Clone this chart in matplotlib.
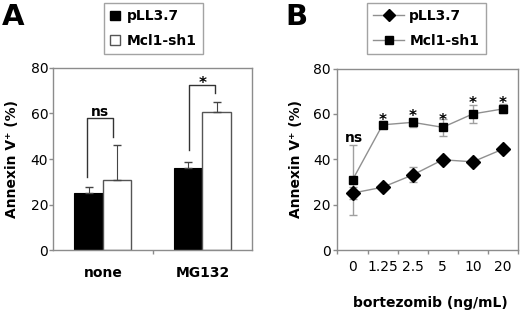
import numpy as np
import matplotlib
matplotlib.use('Agg')
import matplotlib.pyplot as plt
from matplotlib.patches import Patch
from matplotlib.lines import Line2D

plt.rcParams['font.family'] = ['DejaVu Sans']

# panel A data
groups = ['none', 'MG132']
a_pll = [25.2, 36.2]
a_pll_err = [2.6, 2.6]
a_mcl = [30.8, 60.8]
a_mcl_err = [15.4, 4.4]

# panel B data
doses = ['0', '1.25', '2.5', '5', '10', '20']
b_pll = [25.1, 27.7, 33.1, 39.8, 38.9, 44.5]
b_pll_err = [2.5, 1.0, 3.3, 1.0, 1.0, 1.0]
b_mcl = [30.9, 55.2, 56.3, 54.1, 60.0, 62.2]
b_mcl_err = [15.5, 1.5, 2.0, 3.8, 3.8, 2.0]
b_sig = ['ns', '*', '*', '*', '*', '*']
b_sig_y = [47.7, 58.9, 60.5, 58.9, 66.3, 66.3]

frame = '#8c8c8c'
fs = 10
fig = plt.figure(figsize=(5.2, 3.13), dpi=100)

def style(ax, pad):
    for s in ax.spines.values():
        s.set_color(frame)
        s.set_linewidth(1.0)
    ax.tick_params(axis='both', colors=frame, labelcolor='black', labelsize=fs, length=3, width=1)
    ax.tick_params(axis='y', pad=pad)
    ax.set_ylim(0, 80)
    ax.set_yticks([0, 20, 40, 60, 80])
    ax.set_ylabel('Annexin V\u207a (%)', fontsize=fs, fontweight='bold')

# ---- panel A
axA = fig.add_axes([0.102, 0.201, 0.383, 0.582])
x = np.arange(len(groups))
w = 0.285
axA.bar(x - w/2, a_pll, w, color='black', edgecolor='black', lw=0.8)
axA.bar(x + w/2, a_mcl, w, color='white', edgecolor='#555555', lw=1.0)
axA.errorbar(x - w/2, a_pll, yerr=[np.zeros(2), a_pll_err], fmt='none', ecolor='#444444', capsize=3, lw=0.8)
axA.errorbar(x + w/2, a_mcl, yerr=[np.zeros(2), a_mcl_err], fmt='none', ecolor='#444444', capsize=3, lw=0.8)
axA.set_xlim(-0.5, 1.5)
axA.set_xticks([0.5])
axA.set_xticklabels([])
for xi, g in zip(x, groups):
    axA.text(xi, -10, g, ha='center', va='center', fontsize=fs, fontweight='bold')
style(axA, 0.5)
axA.yaxis.set_label_coords(-0.172, 0.5)

# significance brackets
axA.plot([-0.16, -0.16, 0.10, 0.10], [32, 58, 58, 49.5], color='#333333', lw=1)
axA.text(-0.03, 59, 'ns', ha='center', va='baseline', fontsize=fs, fontweight='bold')
axA.plot([0.87, 0.87, 1.13, 1.13], [44, 72.5, 72.5, 69], color='#333333', lw=1)
axA.text(1.0, 71, '*', ha='center', va='baseline', fontsize=fs + 1, fontweight='bold')

handlesA = [Patch(facecolor='black', edgecolor='black'),
            Patch(facecolor='white', edgecolor='#555555')]
legA = axA.legend(handlesA, ['pLL3.7', 'Mcl1-sh1'], loc='upper left',
                  bbox_to_anchor=(104/520, 1 - 3/313), bbox_transform=fig.transFigure,
                  borderaxespad=0, fancybox=False, edgecolor=frame,
                  handlelength=0.7, handleheight=0.7, handletextpad=0.5,
                  borderpad=0.45, labelspacing=0.75,
                  prop={'weight': 'bold', 'size': fs})
legA.get_frame().set_linewidth(1.0)

# ---- panel B
axB = fig.add_axes([0.649, 0.201, 0.347, 0.580])
xb = np.arange(len(doses))
axB.errorbar(xb, b_mcl, yerr=b_mcl_err, fmt='none', ecolor='#a0a0a0', capsize=3, lw=1)
axB.errorbar(xb, b_pll, yerr=b_pll_err, fmt='none', ecolor='#a0a0a0', capsize=3, lw=1)
axB.plot(xb, b_pll, color='#909090', lw=1, marker='D', ms=7.3, mfc='black', mec='black')
axB.plot(xb, b_mcl, color='#909090', lw=1, marker='s', ms=6, mfc='black', mec='black')
axB.set_xlim(-0.5, 5.5)
axB.set_xticks(np.arange(-0.5, 6, 1))
axB.set_xticklabels([])
for xi, d in zip(xb, doses):
    axB.text(xi, -7.5, d, ha='center', va='center', fontsize=fs)
for xi, s, sy in zip(xb, b_sig, b_sig_y):
    if s == 'ns':
        axB.text(xi + 0.05, sy, 'ns', ha='center', va='baseline', fontsize=fs, fontweight='bold')
    else:
        axB.text(xi, sy - 3.7, '*', ha='center', va='baseline', fontsize=fs + 1, fontweight='bold')
style(axB, 2)
axB.yaxis.set_label_coords(-0.19, 0.5)
axB.text(2.6, -23.4, 'bortezomib (ng/mL)', ha='center', va='center', fontsize=fs, fontweight='bold')

handlesB = [Line2D([], [], color='#909090', lw=1, marker='D', ms=6.5, mfc='black', mec='black'),
            Line2D([], [], color='#909090', lw=1, marker='s', ms=5.5, mfc='black', mec='black')]
legB = axB.legend(handlesB, ['pLL3.7', 'Mcl1-sh1'], loc='upper left',
                  bbox_to_anchor=(367/520, 1 - 3/313), bbox_transform=fig.transFigure,
                  borderaxespad=0, fancybox=False, edgecolor=frame, handlelength=2.2,
                  handletextpad=0.4, borderpad=0.45, labelspacing=0.75,
                  prop={'weight': 'bold', 'size': fs})
legB.get_frame().set_linewidth(1.0)

fig.text(0.004, 0.992, 'A', fontsize=21, fontweight='bold', va='top')
fig.text(0.548, 0.992, 'B', fontsize=21, fontweight='bold', va='top')

fig.savefig('out.png', dpi=100)
